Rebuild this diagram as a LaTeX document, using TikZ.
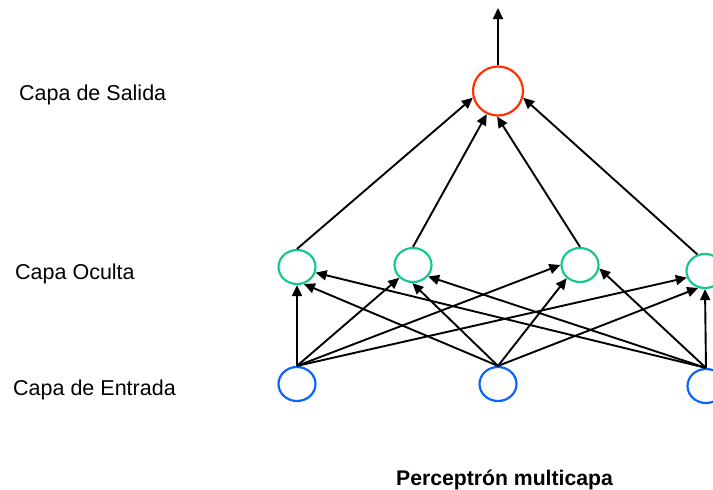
\documentclass[tikz,border=0pt]{standalone}
\usepackage{fontspec}
\setmainfont{Liberation Sans}
\usetikzlibrary{arrows.meta,shapes.geometric}
\definecolor{outred}{RGB}{255,51,0}
\definecolor{hidgreen}{RGB}{20,200,145}
\definecolor{inblue}{RGB}{10,100,255}
\tikzset{
  neuron/.style={ellipse,draw,line width=2.2pt,inner sep=0pt,
    minimum width=37pt,minimum height=34pt},
  outneuron/.style={neuron,draw=outred,minimum width=50pt,minimum height=49pt},
  hidneuron/.style={neuron,draw=hidgreen},
  inneuron/.style={neuron,draw=inblue},
  link/.style={line width=1.9pt,-{Triangle[length=11pt,width=10pt]}},
  layerlabel/.style={anchor=base west,inner sep=0pt,font=\fontsize{21.5}{25}\selectfont},
}
\begin{document}
\begin{tikzpicture}[x=1pt,y=-1pt]
\useasboundingbox (0,0) rectangle (713,490);
\clip (0,0) rectangle (713,490);

% neurons
\node[outneuron] (O) at (498,91) {};
\node[hidneuron] (H1) at (297,267) {};
\node[hidneuron] (H2) at (413,265) {};
\node[hidneuron] (H3) at (580,265) {};
\node[hidneuron] (H4) at (705,271) {};
\node[inneuron] (I1) at (297,384) {};
\node[inneuron] (I2) at (498,384) {};
\node[inneuron] (I3) at (706,386) {};
\coordinate (Y) at (498,8);

% layer labels
\node[layerlabel] (LS) at (19,100.5) {Capa de Salida};
\node[layerlabel] (LO) at (15,279) {Capa Oculta};
\node[layerlabel] (LE) at (13,395) {Capa de Entrada};
\node[anchor=base,inner sep=0pt,font=\bfseries\fontsize{21.2}{25}\selectfont] (T) at (504.5,485) {Perceptrón multicapa};

% output
\draw[link] (O.north) -- (Y);

% hidden -> output
\draw[link] (H1.north) -- (O.195);
\draw[link] (H2.north) -- (O.244);
\draw[link] (H3.north) -- (O.268);
\draw[link] (H4.115) -- (O.345);

% input -> hidden
\draw[link] (I1.north) -- (H1.270);
\draw[link] (I2.north) -- (H1.292);
\draw[link] (I3.north) -- (H1.343);

\draw[link] (I1.north) -- (H2.223);
\draw[link] (I2.north) -- (H2.268);
\draw[link] (I3.north) -- (H2.323);

\draw[link] (I1.north) -- (H3.180);
\draw[link] (I2.north) -- (H3.225);
\draw[link] (I3.north) -- (H3.350);

\draw[link] (I1.north) -- (H4.200);
\draw[link] (I2.north) -- (H4.248);
\draw[link] (I3.north) -- (H4.270);
\end{tikzpicture}
\end{document}
